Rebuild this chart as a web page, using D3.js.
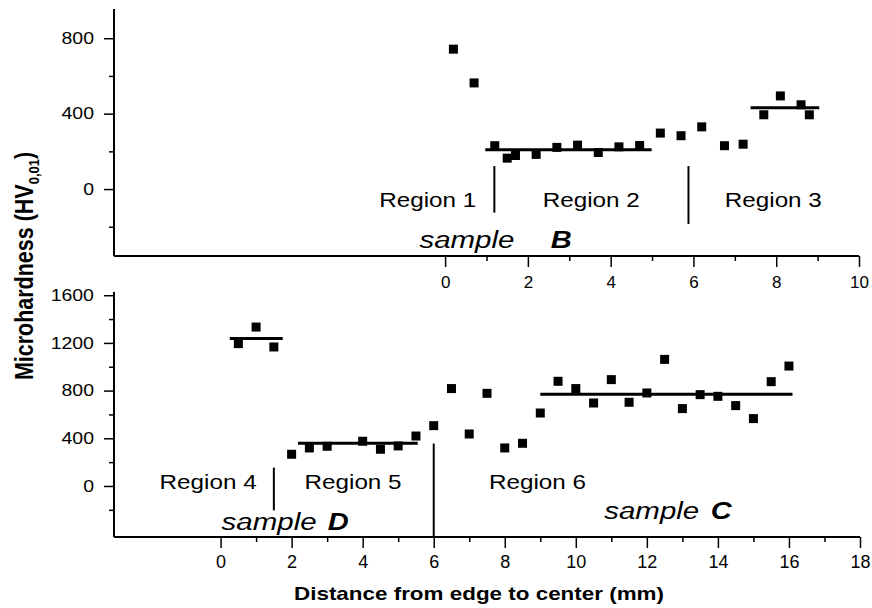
<!DOCTYPE html>
<html>
<head>
<meta charset="utf-8">
<script src="https://cdn.jsdelivr.net/npm/d3@7"></script>
<style>
  body { margin: 0; background: #fff; }
  text { font-family: "Liberation Sans", Arial, Helvetica, sans-serif; fill: #000; }
</style>
</head>
<body>
<script>
// ---- data ----
// sample B (upper panel)
var distB = [0.2, 0.7, 1.2, 1.5, 1.7, 2.2, 2.7, 3.2, 3.7, 4.2, 4.7, 5.2, 5.7, 6.2, 6.75, 7.2, 7.7, 8.1, 8.6, 8.8];
var hvB   = [742, 563, 230, 164, 178, 184, 221, 233, 194, 224, 231, 297, 283, 330, 230, 238, 394, 494, 447, 394];

// samples D and C (lower panel)
var distDC = [0.5, 1, 1.5, 2, 2.5, 3, 4, 4.5, 5, 5.5, 6, 6.5, 7, 7.5, 8, 8.5, 9, 9.5, 10, 10.5, 11, 11.5, 12, 12.5, 13, 13.5, 14, 14.5, 15, 15.5, 16];
var hvDC   = [1194, 1333, 1166, 266, 319, 333, 375, 308, 336, 419, 506, 817, 436, 777, 319, 358, 612, 878, 817, 696, 892, 702, 780, 1062, 649, 766, 752, 674, 565, 875, 1006];

// region mean lines: [from, to, value]
var meansB  = [[0.97, 4.99, 208], [7.38, 9.04, 431]];
var meansDC = [[0.26, 1.75, 1236], [2.18, 5.55, 358], [9.0, 16.1, 770]];

// region borders: [x, y1, y2]
var bordersB  = [[1.19, 122, -125], [5.88, 122, -185]];
var bordersDC = [[1.5, 154, -204], [6, 356, -428]];

// region names: [name, x, y]
var regionsB  = [["Region 1", -0.42, -95], ["Region 2", 3.53, -95], ["Region 3", 7.93, -95]];
var regionsDC = [["Region 4", -0.35, -28], ["Region 5", 3.73, -28], ["Region 6", 8.92, -24]];

// sample names: [letter, x of "sample", x of letter, y]
var samplesB  = [["B", -0.62, 2.55, -313]];
var samplesDC = [["D", 0.03, 3.02, -371], ["C", 10.8, 13.8, -279]];

// ticks
var yMajorB = [0, 400, 800], yMinorB = [-200, 200, 600];
var xMajorB = [0, 2, 4, 6, 8, 10], xMinorB = [1, 3, 5, 7, 9];
var yMajorDC = [0, 400, 800, 1200, 1600], yMinorDC = [-200, 200, 600, 1000, 1400];
var xMajorDC = [0, 2, 4, 6, 8, 10, 12, 14, 16, 18], xMinorDC = [1, 3, 5, 7, 9, 11, 13, 15, 17];

var svg = d3.select("body").append("svg")
    .attr("width", 872)
    .attr("height", 608);

// scales
var xB = d3.scaleLinear().domain([-8, 10]).range([114, 859]);
var yB = d3.scaleLinear().domain([-355, 955]).range([256, 9]);
var xDC = d3.scaleLinear().domain([-3, 18]).range([114, 860]);
var yDC = d3.scaleLinear().domain([-428, 1627]).range([537, 292]);

function drawPanel(x, y, o) {
  var g = svg.append("g");

  // axis lines
  g.append("line")
      .attr("x1", x.range()[0]).attr("x2", x.range()[0])
      .attr("y1", y.range()[1]).attr("y2", y.range()[0])
      .attr("stroke", "#000").attr("stroke-width", 2);
  g.append("line")
      .attr("x1", x.range()[0]).attr("x2", x.range()[1])
      .attr("y1", y.range()[0]).attr("y2", y.range()[0])
      .attr("stroke", "#000").attr("stroke-width", 2);

  // y ticks (labels a bit wider than normal, like the original)
  var ya = g.append("g").attr("transform", "translate(" + x.range()[0] + ",0)")
      .call(d3.axisLeft(y).tickValues(o.yMajor).tickSize(10).tickPadding(7).tickFormat(d3.format("d")));
  g.append("g").attr("transform", "translate(" + x.range()[0] + ",0)")
      .call(d3.axisLeft(y).tickValues(o.yMinor).tickSize(5).tickFormat(""));
  ya.selectAll("text").attr("font-size", 16.5).attr("transform", "scale(1.18,1)");

  // x ticks
  var xa = g.append("g").attr("transform", "translate(0," + y.range()[0] + ")")
      .call(d3.axisBottom(x).tickValues(o.xMajor).tickSize(11).tickPadding(o.xPad).tickFormat(d3.format("d")));
  g.append("g").attr("transform", "translate(0," + y.range()[0] + ")")
      .call(d3.axisBottom(x).tickValues(o.xMinor).tickSize(5).tickFormat(""));
  xa.selectAll("text").attr("font-size", o.xFont);

  g.selectAll(".domain").remove();
  g.selectAll(".tick line").attr("stroke", "#000").attr("stroke-width", 1.5);
  g.selectAll(".tick text").attr("font-family", null).attr("fill", "#000");

  // region borders
  g.selectAll(".border").data(o.borders).enter().append("line")
      .attr("x1", function(d) { return x(d[0]); })
      .attr("x2", function(d) { return x(d[0]); })
      .attr("y1", function(d) { return y(d[1]); })
      .attr("y2", function(d) { return y(d[2]); })
      .attr("stroke", "#000").attr("stroke-width", 2);

  // mean lines
  g.selectAll(".mean").data(o.means).enter().append("line")
      .attr("x1", function(d) { return x(d[0]); })
      .attr("x2", function(d) { return x(d[1]); })
      .attr("y1", function(d) { return y(d[2]); })
      .attr("y2", function(d) { return y(d[2]); })
      .attr("stroke", "#000").attr("stroke-width", 3);

  // points
  g.selectAll(".pt").data(o.dist).enter().append("rect")
      .attr("x", function(d) { return x(d) - 4.5; })
      .attr("y", function(d, i) { return y(o.hv[i]) - 4.5; })
      .attr("width", 9).attr("height", 9)
      .attr("fill", "#000");

  // labels
  g.selectAll(".region").data(o.regions).enter().append("text")
      .attr("x", function(d) { return x(d[1]); })
      .attr("y", function(d) { return y(d[2]); })
      .attr("text-anchor", "middle")
      .attr("font-size", 21)
      .attr("textLength", 97)
      .attr("lengthAdjust", "spacingAndGlyphs")
      .text(function(d) { return d[0]; });

  o.samples.forEach(function(d) {
    g.append("text")
        .attr("x", x(d[1])).attr("y", y(d[3]))
        .attr("font-size", 23).attr("font-style", "italic")
        .attr("textLength", 95).attr("lengthAdjust", "spacingAndGlyphs")
        .text("sample");
    g.append("text")
        .attr("x", x(d[2])).attr("y", y(d[3]))
        .attr("font-size", 23).attr("font-style", "italic").attr("font-weight", "bold")
        .attr("textLength", 21).attr("lengthAdjust", "spacingAndGlyphs")
        .text(d[0]);
  });
}

drawPanel(xB, yB, {
  dist: distB, hv: hvB, means: meansB, borders: bordersB,
  regions: regionsB, samples: samplesB,
  yMajor: yMajorB, yMinor: yMinorB, xMajor: xMajorB, xMinor: xMinorB,
  xPad: 9, xFont: 17
});

drawPanel(xDC, yDC, {
  dist: distDC, hv: hvDC, means: meansDC, borders: bordersDC,
  regions: regionsDC, samples: samplesDC,
  yMajor: yMajorDC, yMinor: yMinorDC, xMajor: xMajorDC, xMinor: xMinorDC,
  xPad: 7, xFont: 18
});

// axis titles
svg.append("text")
    .attr("x", 479).attr("y", 600)
    .attr("text-anchor", "middle")
    .attr("font-size", 19).attr("font-weight", "bold")
    .attr("textLength", 370).attr("lengthAdjust", "spacingAndGlyphs")
    .text("Distance from edge to center (mm)");

var yt = svg.append("text")
    .attr("transform", "translate(33,266) scale(1.16,1) rotate(-90)")
    .attr("text-anchor", "middle")
    .attr("font-size", 21.5).attr("font-weight", "bold");
yt.append("tspan").text("Microhardness (HV");
yt.append("tspan").attr("font-size", 13).attr("dy", 5).text("0,01");
yt.append("tspan").attr("dy", -5).text(")");
</script>
</body>
</html>
